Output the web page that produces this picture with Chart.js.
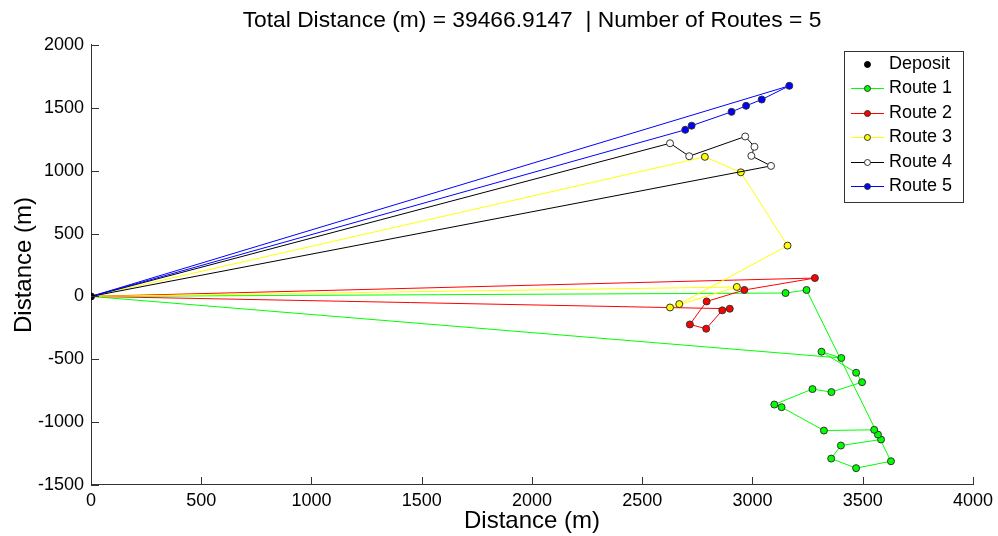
<!DOCTYPE html>
<html>
<head>
<meta charset="utf-8">
<script src="https://cdn.jsdelivr.net/npm/chart.js@4.4.1/dist/chart.umd.min.js"></script>
<style>
  html, body { margin: 0; padding: 0; background: #fff; }
  #wrap { width: 998px; height: 536px; }
</style>
</head>
<body>
<div id="wrap"><canvas id="grafica" width="998" height="536"></canvas></div>
<script>
/********** Datos de las rutas *******************/
const depositX = [0];
const depositY = [0];

const route1X = [0, 3150, 3245, 3628, 3470, 3357, 3401, 3583, 3569, 3552, 3324, 3132, 3099, 3272, 3358, 3497, 3470, 3313, 3403, 0];
const route1Y = [0, 27, 51, -1311, -1366, -1290, -1186, -1138, -1099, -1061, -1067, -881, -860, -737, -761, -682, -607, -440, -490, 0];

const route2X = [0, 3283, 2963, 2792, 2716, 2790, 2863, 2897, 0];
const route2Y = [0, 146, 51, -40, -223, -257, -111, -98, 0];

const route3X = [0, 2784, 2947, 3159, 2668, 2626, 2929, 0];
const route3Y = [0, 1110, 987, 404, -61, -88, 75, 0];

const route4X = [0, 2626, 2713, 2967, 3009, 2995, 3084, 0];
const route4Y = [0, 1218, 1115, 1272, 1190, 1118, 1038, 0];

const route5X = [0, 3167, 3042, 2971, 2905, 2724, 2695, 0];
const route5Y = [0, 1675, 1566, 1516, 1468, 1358, 1325, 0];

const routeNames = ['Route 1', 'Route 2', 'Route 3', 'Route 4', 'Route 5'];
const routeLines = ['#00ff00', '#ff0000', '#ffff00', '#000000', '#0000ff'];
const routeFills = ['#00ff00', '#ff0000', '#ffff00', '#ffffff', '#0000ff'];

const xTicks = [0, 500, 1000, 1500, 2000, 2500, 3000, 3500, 4000];
const yTicks = [-1500, -1000, -500, 0, 500, 1000, 1500, 2000];

const FONT = '"Liberation Sans", Arial, sans-serif';

const puntos = (xs, ys) => xs.map((x, i) => ({ x: x, y: ys[i] }));

const rutasX = [route1X, route2X, route3X, route4X, route5X];
const rutasY = [route1Y, route2Y, route3Y, route4Y, route5Y];

let datasets = [{
  label: 'Deposit',
  data: puntos(depositX, depositY),
  showLine: false,
  pointRadius: 3.5,
  pointBackgroundColor: '#000',
  pointBorderColor: '#000',
  pointBorderWidth: 1,
  order: 0
}];
for (let i = 0; i < 5; i++) {
  datasets.push({
    label: routeNames[i],
    data: puntos(rutasX[i], rutasY[i]),
    showLine: true,
    borderColor: routeLines[i],
    borderWidth: 1,
    pointRadius: (ctx) => (ctx.dataIndex === 0 || ctx.dataIndex === rutasX[i].length - 1) ? 0 : 3.5,
    pointBackgroundColor: routeFills[i],
    pointBorderColor: '#333',
    pointBorderWidth: 1,
    order: 5 - i
  });
}

/********* ticks hacia adentro, como en MATLAB ********************/
const ticksAdentro = {
  id: 'ticksAdentro',
  afterDraw(chart) {
    const ctx = chart.ctx;
    const a = chart.chartArea;
    const sx = chart.scales.x, sy = chart.scales.y;
    ctx.save();
    ctx.strokeStyle = '#333';
    ctx.lineWidth = 1;
    ctx.beginPath();
    xTicks.forEach(v => {
      const px = Math.round(sx.getPixelForValue(v)) + 0.5;
      ctx.moveTo(px, a.bottom);
      ctx.lineTo(px, a.bottom - 8);
    });
    yTicks.forEach(v => {
      const py = Math.round(sy.getPixelForValue(v)) + 0.5;
      ctx.moveTo(a.left, py);
      ctx.lineTo(a.left + 8, py);
    });
    ctx.stroke();
    ctx.restore();
  }
};

/********* leyenda en caja ********************/
const leyenda = {
  id: 'leyenda',
  afterDraw(chart) {
    const ctx = chart.ctx;
    const a = chart.chartArea;
    const w = 119, h = 151;
    const x = a.right - 10 - w, y = a.top + 6;
    ctx.save();
    ctx.fillStyle = '#fff';
    ctx.fillRect(x, y, w, h);
    ctx.strokeStyle = '#333';
    ctx.lineWidth = 1;
    ctx.strokeRect(Math.round(x) + 0.5, Math.round(y) + 0.5, w, h);
    ctx.font = '18px ' + FONT;
    ctx.textBaseline = 'middle';
    ctx.textAlign = 'left';
    chart.data.datasets.forEach((ds, i) => {
      const cy = Math.round(y + 13 + i * 24.5) + 0.5;
      if (ds.showLine) {
        ctx.strokeStyle = ds.borderColor;
        ctx.beginPath();
        ctx.moveTo(x + 7, cy);
        ctx.lineTo(x + 40, cy);
        ctx.stroke();
      }
      ctx.beginPath();
      ctx.arc(x + 23.5, cy, 3, 0, Math.PI * 2);
      ctx.fillStyle = ds.pointBackgroundColor;
      ctx.fill();
      ctx.strokeStyle = ds.showLine ? '#333' : '#000';
      ctx.stroke();
      ctx.fillStyle = '#000';
      ctx.fillText(ds.label, x + 45, cy);
    });
    ctx.restore();
  }
};

new Chart(document.getElementById('grafica'), {
  type: 'scatter',
  data: { datasets: datasets },
  options: {
    responsive: false,
    animation: false,
    events: [],
    layout: { padding: { left: 0, right: 21, top: 0, bottom: 0 } },
    plugins: {
      legend: { display: false },
      tooltip: { enabled: false },
      title: {
        display: true,
        fullSize: false,
        text: 'Total Distance (m) = 39466.9147  | Number of Routes = 5',
        color: '#000',
        font: { family: FONT, size: 22.8, weight: 'normal', lineHeight: 1.2 },
        padding: { top: 7.5, bottom: 10.1 }
      }
    },
    scales: {
      x: {
        type: 'linear',
        min: 0,
        max: 4000,
        afterBuildTicks: (s) => { s.ticks = xTicks.map(v => ({ value: v })); },
        afterFit: (s) => { s.height = 51; },
        ticks: { color: '#000', font: { family: FONT, size: 18 }, padding: 5, maxRotation: 0, autoSkip: false,
                 callback: (v) => String(v) },
        grid: { display: false, drawTicks: false },
        border: { display: true, color: '#333', width: 1 },
        title: {
          display: true,
          text: 'Distance (m)',
          color: '#000',
          font: { family: FONT, size: 24, lineHeight: 1.2 },
          padding: { top: 0, bottom: 0 }
        }
      },
      y: {
        type: 'linear',
        min: -1500,
        max: 2000,
        afterBuildTicks: (s) => { s.ticks = yTicks.map(v => ({ value: v })); },
        afterFit: (s) => { s.width = 91; },
        ticks: { color: '#000', font: { family: FONT, size: 18 }, padding: 7, autoSkip: false,
                 callback: (v) => String(v) },
        grid: { display: false, drawTicks: false },
        border: { display: true, color: '#333', width: 1 },
        title: {
          display: true,
          text: 'Distance (m)',
          color: '#000',
          font: { family: FONT, size: 24, lineHeight: 1.2 },
          padding: { top: 9.5, bottom: 0 }
        }
      }
    }
  },
  plugins: [ticksAdentro, leyenda]
});
</script>
</body>
</html>
